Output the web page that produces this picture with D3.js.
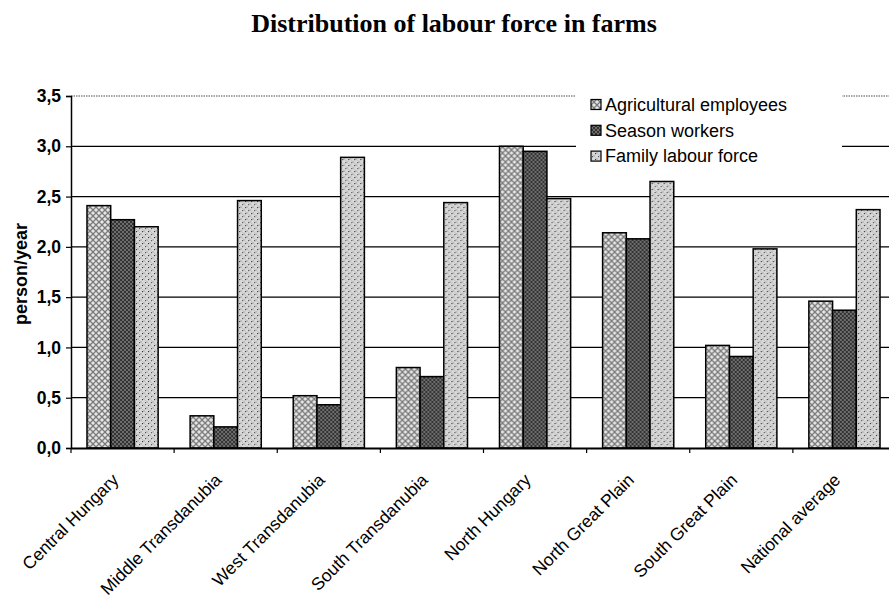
<!DOCTYPE html>
<html>
<head>
<meta charset="utf-8">
<script src="https://cdn.jsdelivr.net/npm/d3@7"></script>
<style>
  html, body { margin: 0; padding: 0; background: #fff; }
  svg { display: block; }
</style>
</head>
<body>
<svg id="chart" width="889" height="603"></svg>
<script>
const categories = ["Central Hungary", "Middle Transdanubia", "West Transdanubia", "South Transdanubia",
  "North Hungary", "North Great Plain", "South Great Plain", "National average"];
const seriesNames = ["Agricultural employees", "Season workers", "Family labour force"];
const agriculturalEmployees = [2.41, 0.32, 0.52, 0.80, 3.00, 2.14, 1.02, 1.46];
const seasonWorkers = [2.27, 0.21, 0.43, 0.71, 2.95, 2.08, 0.91, 1.37];
const familyLabourForce = [2.20, 2.46, 2.89, 2.44, 2.48, 2.65, 1.98, 2.37];
const yTicks = [0, 0.5, 1.0, 1.5, 2.0, 2.5, 3.0, 3.5];
const title = "Distribution of labour force in farms";
const yTitle = "person/year";

const seriesValues = [agriculturalEmployees, seasonWorkers, familyLabourForce];

const svg = d3.select("#chart");
const defs = svg.append("defs");

// pattern: light crosshatch (agricultural)
const p1 = defs.append("pattern").attr("id", "pAgri").attr("patternUnits", "userSpaceOnUse")
  .attr("width", 6).attr("height", 6);
p1.append("rect").attr("width", 6).attr("height", 6).attr("fill", "#e6e6e6");
p1.append("path").attr("d", "M0,0 L6,6 M6,0 L0,6").attr("stroke", "#7a7a7a").attr("stroke-width", 1.3);
// pattern: dark crosshatch (season)
const p2 = defs.append("pattern").attr("id", "pSeason").attr("patternUnits", "userSpaceOnUse")
  .attr("width", 4).attr("height", 4);
p2.append("rect").attr("width", 4).attr("height", 4).attr("fill", "#333");
p2.append("path").attr("d", "M0,0 L4,4 M4,0 L0,4").attr("stroke", "#7c7c7c").attr("stroke-width", 0.8);
// pattern: light stipple (family)
const p3 = defs.append("pattern").attr("id", "pFamily").attr("patternUnits", "userSpaceOnUse")
  .attr("width", 6).attr("height", 6);
p3.append("rect").attr("width", 6).attr("height", 6).attr("fill", "#d8d8d8");
p3.append("path").attr("d", "M0,0 L6,6 M6,0 L0,6").attr("stroke", "#b8b8b8").attr("stroke-width", 0.8);
p3.append("rect").attr("x", 1).attr("y", 3).attr("width", 1).attr("height", 1).attr("fill", "#333");
p3.append("rect").attr("x", 4).attr("y", 0).attr("width", 1).attr("height", 1).attr("fill", "#555");
const fills = ["url(#pAgri)", "url(#pSeason)", "url(#pFamily)"];

const plotLeft = 71, plotRight = 896, plotTop = 96, plotBottom = 448;
const sans = "'Liberation Sans', Arial, sans-serif";

const x0 = d3.scaleBand().domain(categories).range([plotLeft, plotRight])
  .paddingInner(0.31).paddingOuter(0.155);
const x1 = d3.scaleBand().domain(seriesNames).range([0, x0.bandwidth()]);
const y = d3.scaleLinear().domain([0, 3.5]).range([plotBottom, plotTop]);

// title
svg.append("text").attr("x", 454).attr("y", 32).attr("text-anchor", "middle")
  .attr("font-family", "'Liberation Serif', 'Times New Roman', serif")
  .attr("font-weight", "bold").attr("font-size", 26).text(title);

// gridlines
svg.append("g").selectAll("line").data(yTicks.filter(d => d > 0)).join("line")
  .attr("x1", plotLeft).attr("x2", plotRight)
  .attr("y1", d => y(d)).attr("y2", d => y(d))
  .attr("stroke", "#000").attr("stroke-width", d => d === 3.5 ? 1 : 1.2)
  .attr("stroke-dasharray", d => d === 3.5 ? "1.5,1" : null)
  .attr("opacity", d => d === 3.5 ? 0.7 : 1);

// legend background (covers gridlines)
const lg = svg.append("g");
lg.append("rect").attr("x", 576).attr("y", 88).attr("width", 266).attr("height", 86).attr("fill", "#fff");
seriesNames.forEach((name, i) => {
  const cy = 104.5 + i * 25.8;
  lg.append("rect").attr("x", 591).attr("y", cy - 5).attr("width", 10).attr("height", 10)
    .attr("fill", fills[i]).attr("stroke", "#000").attr("stroke-width", 1.2);
  lg.append("text").attr("x", 605).attr("y", cy).attr("dy", "0.35em")
    .attr("font-family", sans).attr("font-size", 18)
    .text(name);
});

// bars
const groups = svg.append("g").selectAll("g").data(categories).join("g")
  .attr("transform", d => `translate(${x0(d)},0)`);
groups.selectAll("rect").data((d, ci) => seriesNames.map((s, si) => ({ s, si, v: seriesValues[si][ci] })))
  .join("rect")
  .attr("x", d => x1(d.s)).attr("width", x1.bandwidth())
  .attr("y", d => y(d.v)).attr("height", d => y(0) - y(d.v))
  .attr("fill", d => fills[d.si]).attr("stroke", "#000").attr("stroke-width", 1.5);

// y axis
const yAxis = svg.append("g").attr("transform", `translate(${plotLeft},0)`)
  .call(d3.axisLeft(y).tickValues(yTicks).tickSize(5).tickFormat(d => d3.format(".1f")(d).replace(".", ",")));
yAxis.select(".domain").attr("stroke", "#000").attr("stroke-width", 1.5);
yAxis.selectAll(".tick line").attr("stroke", "#000").attr("stroke-width", 1.2);
yAxis.selectAll(".tick text").attr("font-family", sans)
  .attr("font-size", 17.5).attr("font-weight", "bold").attr("fill", "#000").attr("x", -10);

// x axis
const xAxis = svg.append("g").attr("transform", `translate(0,${plotBottom})`)
  .call(d3.axisBottom(x0).tickSize(0).tickFormat(""));
xAxis.select(".domain").attr("stroke", "#000").attr("stroke-width", 1.8);
// separators between categories
svg.append("g").selectAll("line").data(categories).join("line")
  .attr("x1", d => x0(d) - x0.step() * x0.paddingInner() / 2)
  .attr("x2", d => x0(d) - x0.step() * x0.paddingInner() / 2)
  .attr("y1", plotBottom).attr("y2", plotBottom + 5).attr("stroke", "#000").attr("stroke-width", 1.2);
// category labels
svg.append("g").selectAll("text").data(categories).join("text")
  .attr("transform", d => `translate(${x0(d) + x0.bandwidth() / 2 - 3},${plotBottom + 33}) rotate(-45)`)
  .attr("text-anchor", "end")
  .attr("font-family", sans).attr("font-size", 17.5)
  .text(d => d);

// y title
svg.append("text").attr("transform", `translate(27,274) rotate(-90)`)
  .attr("text-anchor", "middle").attr("font-family", sans)
  .attr("font-size", 18).attr("font-weight", "bold").text(yTitle);
</script>
</body>
</html>
